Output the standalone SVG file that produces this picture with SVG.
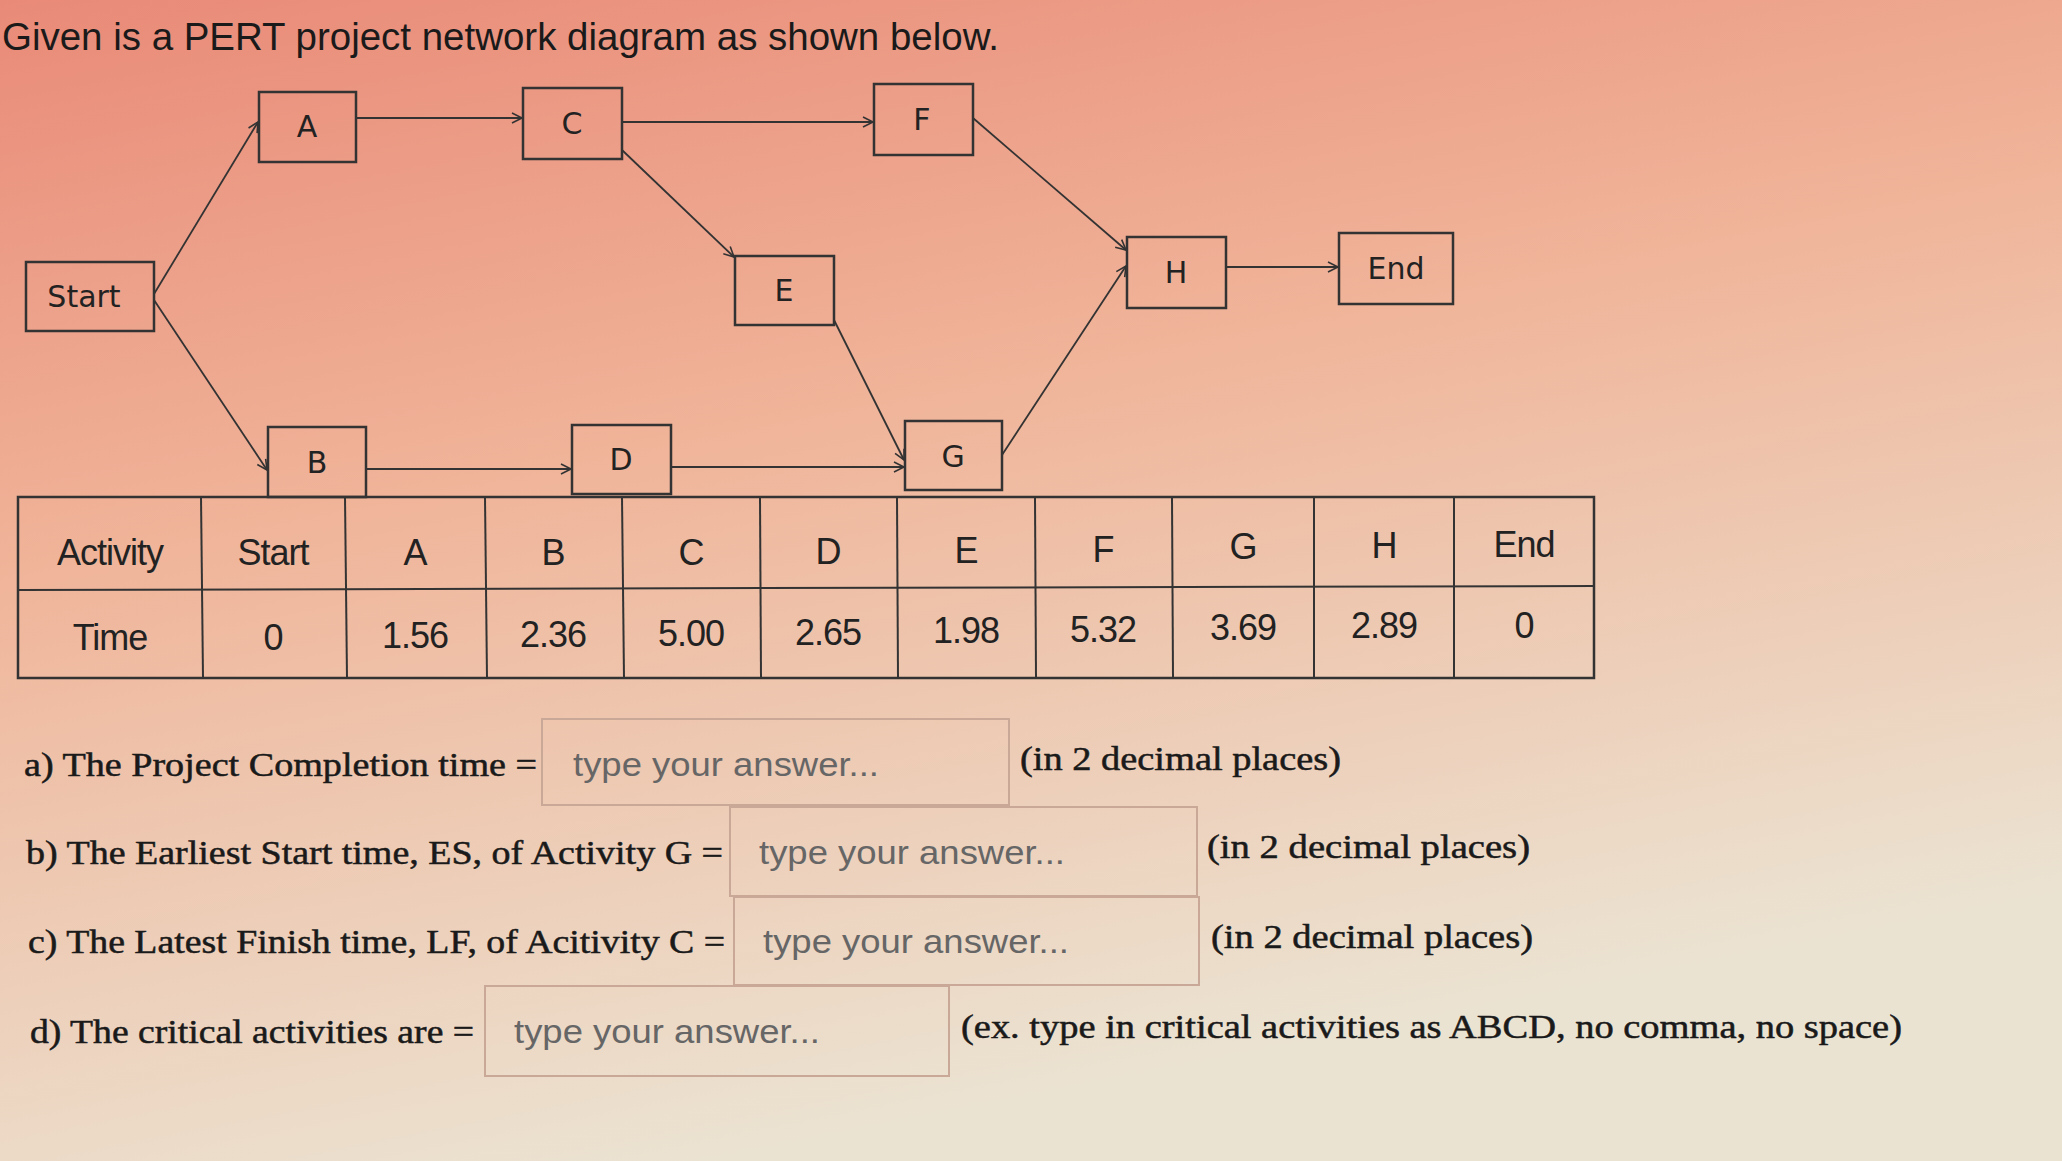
<svg xmlns="http://www.w3.org/2000/svg" width="2062" height="1161" viewBox="0 0 2062 1161">
<defs>
<linearGradient id="bg" x1="0" y1="0" x2="0.35" y2="1">
<stop offset="0" stop-color="#e98a78"/>
<stop offset="0.45" stop-color="#f0b59a"/>
<stop offset="1" stop-color="#ebe3d2"/>
</linearGradient>
<marker id="ar" markerWidth="14" markerHeight="14" refX="12" refY="7" orient="auto" markerUnits="userSpaceOnUse">
<path d="M2,2 L12,7 L2,12" fill="none" stroke="#333" stroke-width="1.6"/>
</marker>
<style>
.n rect{fill:none;stroke:#333;stroke-width:2.5}
.n text{font-family:"DejaVu Sans",sans-serif;font-size:30px;fill:#222;text-anchor:middle}
.c line{stroke:#333;stroke-width:1.8;marker-end:url(#ar)}
.tb line{stroke:#333;stroke-width:2}
.tb text{font-family:"Liberation Sans",Arial,sans-serif;font-size:36px;fill:#222;text-anchor:middle;letter-spacing:-1px}
.q{font-family:"Liberation Serif","Times New Roman",serif;font-size:33px;fill:#1a1a1a;stroke:#1a1a1a;stroke-width:0.5}
.ib{fill:none;stroke:#c9a898;stroke-width:2}
.ph{font-family:"Liberation Sans",Arial,sans-serif;font-size:33px;fill:#666}
</style>
</defs>
<rect width="2062" height="1161" fill="url(#bg)"/>
<text x="2" y="50" font-family="Liberation Sans, Arial, sans-serif" font-size="38" fill="#1a1a1a" textLength="997" lengthAdjust="spacingAndGlyphs">Given is a PERT project network diagram as shown below.</text>
<g class="c">
<line x1="154" y1="294" x2="258" y2="122"/>
<line x1="154" y1="300" x2="267" y2="470"/>
<line x1="356" y1="118" x2="522" y2="118"/>
<line x1="622" y1="122" x2="873" y2="122"/>
<line x1="622" y1="150" x2="734" y2="257"/>
<line x1="973" y1="118" x2="1126" y2="250"/>
<line x1="834" y1="320" x2="904" y2="460"/>
<line x1="366" y1="469" x2="571" y2="469"/>
<line x1="671" y1="467" x2="904" y2="467"/>
<line x1="1002" y1="455" x2="1126" y2="266"/>
<line x1="1226" y1="267" x2="1338" y2="267"/>
</g>
<g id="Start" class="n"><rect x="26" y="262" width="128" height="69"/><text x="84" y="307">Start</text></g>
<g id="A" class="n"><rect x="259" y="92" width="97" height="70"/><text x="307" y="137">A</text></g>
<g id="C" class="n"><rect x="523" y="88" width="99" height="71"/><text x="572" y="134">C</text></g>
<g id="F" class="n"><rect x="874" y="84" width="99" height="71"/><text x="922" y="130">F</text></g>
<g id="E" class="n"><rect x="735" y="256" width="99" height="69"/><text x="784" y="301">E</text></g>
<g id="H" class="n"><rect x="1127" y="237" width="99" height="71"/><text x="1176" y="283">H</text></g>
<g id="End" class="n"><rect x="1339" y="233" width="114" height="71"/><text x="1396" y="279">End</text></g>
<g id="B" class="n"><rect x="268" y="427" width="98" height="70"/><text x="317" y="473">B</text></g>
<g id="D" class="n"><rect x="572" y="425" width="99" height="69"/><text x="621" y="470">D</text></g>
<g id="G" class="n"><rect x="905" y="421" width="97" height="69"/><text x="953" y="467">G</text></g>
<g class="tb">
<rect x="18" y="497" width="1576" height="181" fill="none" stroke="#333" stroke-width="2.5"/>
<line x1="18" y1="590" x2="1594" y2="586"/>
<line x1="201" y1="497" x2="203" y2="678"/>
<line x1="345" y1="497" x2="347" y2="678"/>
<line x1="485" y1="497" x2="487" y2="678"/>
<line x1="622" y1="497" x2="624" y2="678"/>
<line x1="760" y1="497" x2="761" y2="678"/>
<line x1="897" y1="497" x2="898" y2="678"/>
<line x1="1035" y1="497" x2="1036" y2="678"/>
<line x1="1172" y1="497" x2="1173" y2="678"/>
<line x1="1314" y1="497" x2="1314" y2="678"/>
<line x1="1454" y1="497" x2="1454" y2="678"/>
<text x="110" y="565">Activity</text><text x="273" y="565">Start</text><text x="415" y="565">A</text><text x="553" y="565">B</text><text x="691" y="565">C</text><text x="828" y="564">D</text><text x="966" y="563">E</text><text x="1103" y="562">F</text><text x="1243" y="559">G</text><text x="1384" y="558">H</text><text x="1524" y="557">End</text>
<text x="110" y="650">Time</text><text x="273" y="650">0</text><text x="415" y="648">1.56</text><text x="553" y="647">2.36</text><text x="691" y="646">5.00</text><text x="828" y="645">2.65</text><text x="966" y="643">1.98</text><text x="1103" y="642">5.32</text><text x="1243" y="640">3.69</text><text x="1384" y="638">2.89</text><text x="1524" y="638">0</text>
</g>
<text class="q" x="24" y="776" textLength="513" lengthAdjust="spacingAndGlyphs">a) The Project Completion time =</text>
<rect class="ib" x="542" y="719" width="467" height="86"/>
<text class="ph" x="573" y="776" textLength="306" lengthAdjust="spacingAndGlyphs">type your answer...</text>
<text class="q" x="1020" y="770" textLength="321" lengthAdjust="spacingAndGlyphs">(in 2 decimal places)</text>
<text class="q" x="26" y="864" textLength="697" lengthAdjust="spacingAndGlyphs">b) The Earliest Start time, ES, of Activity G =</text>
<rect class="ib" x="730" y="807" width="467" height="89"/>
<text class="ph" x="759" y="864" textLength="306" lengthAdjust="spacingAndGlyphs">type your answer...</text>
<text class="q" x="1207" y="858" textLength="323" lengthAdjust="spacingAndGlyphs">(in 2 decimal places)</text>
<text class="q" x="28" y="953" textLength="697" lengthAdjust="spacingAndGlyphs">c) The Latest Finish time, LF, of Acitivity C =</text>
<rect class="ib" x="734" y="897" width="465" height="88"/>
<text class="ph" x="763" y="953" textLength="306" lengthAdjust="spacingAndGlyphs">type your answer...</text>
<text class="q" x="1211" y="948" textLength="322" lengthAdjust="spacingAndGlyphs">(in 2 decimal places)</text>
<text class="q" x="30" y="1043" textLength="444" lengthAdjust="spacingAndGlyphs">d) The critical activities are =</text>
<rect class="ib" x="485" y="986" width="464" height="90"/>
<text class="ph" x="514" y="1043" textLength="306" lengthAdjust="spacingAndGlyphs">type your answer...</text>
<text class="q" x="961" y="1038" textLength="941" lengthAdjust="spacingAndGlyphs">(ex. type in critical activities as ABCD, no comma, no space)</text>
</svg>
